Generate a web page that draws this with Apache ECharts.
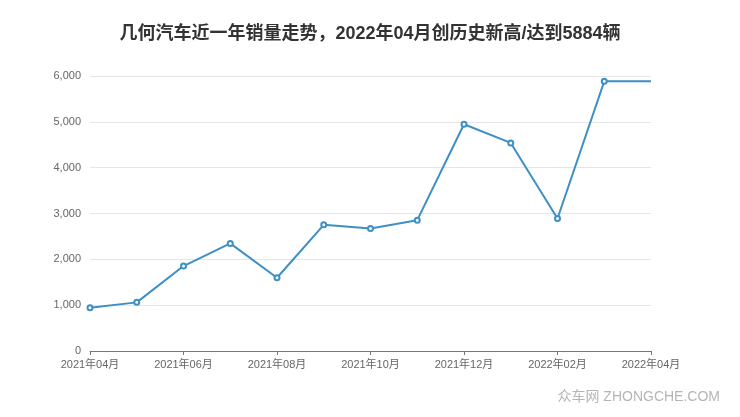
<!DOCTYPE html>
<html>
<head>
<meta charset="utf-8">
<script src="https://cdn.jsdelivr.net/npm/echarts@6/dist/echarts.min.js"></script>
<style>html,body{margin:0;padding:0;background:#fff}#c{width:740px;height:417px}</style>
</head>
<body>
<div id="c"></div>
<script>
var titleText = '几何汽车近一年销量走势，2022年04月创历史新高/达到5884辆';
var categories = ['2021年04月','2021年05月','2021年06月','2021年07月','2021年08月','2021年09月','2021年10月','2021年11月','2021年12月','2022年01月','2022年02月','2022年03月','2022年04月'];
var sales = [944, 1061, 1853, 2347, 1598, 2753, 2674, 2855, 4948, 4540, 2892, 5884, 5884];
var yTicks = [0, 1000, 2000, 3000, 4000, 5000, 6000];

var chart = echarts.init(document.getElementById('c'));
var data = sales.map(function(v, i){
  return i === sales.length - 1 ? {value: v, symbol: 'none'} : v;
});
chart.setOption({
  animation: false,
  title: {
    text: titleText, left: 'center', top: 20,
    textStyle: {fontSize: 18, fontWeight: 'bold', color: '#333', fontFamily: 'Liberation Sans, Noto Sans CJK SC, sans-serif'}
  },
  grid: {left: 90, right: 89, top: 76, bottom: 66},
  xAxis: {
    type: 'category', data: categories, boundaryGap: false,
    axisLine: {lineStyle: {color: '#777', width: 1}},
    axisTick: {interval: 1, length: 4, lineStyle: {color: '#777'}},
    axisLabel: {interval: 1, fontSize: 11, color: '#666', margin: 8, fontFamily: 'Liberation Sans, Noto Sans CJK SC, sans-serif'}
  },
  yAxis: {
    type: 'value', min: yTicks[0], max: yTicks[yTicks.length-1], interval: 1000,
    axisLine: {show: false}, axisTick: {show: false},
    splitLine: {lineStyle: {color: '#e6e6e6'}},
    axisLabel: {fontSize: 11, color: '#666', margin: 9, fontFamily: 'Liberation Sans, sans-serif',
      formatter: function(v){ return v.toLocaleString('en-US'); }}
  },
  graphic: [{
    type: 'text', right: 20, top: 390,
    style: {text: '众车网 ZHONGCHE.COM', fontSize: 14, fill: '#b5b5b5', fontFamily: 'Liberation Sans, Noto Sans CJK SC, sans-serif'}
  }],
  series: [{
    type: 'line', data: data,
    symbol: 'emptyCircle', symbolSize: 5,
    lineStyle: {color: '#3d8fc6', width: 2},
    itemStyle: {color: '#3d8fc6', borderWidth: 1.5}
  }]
});
</script>
</body>
</html>
